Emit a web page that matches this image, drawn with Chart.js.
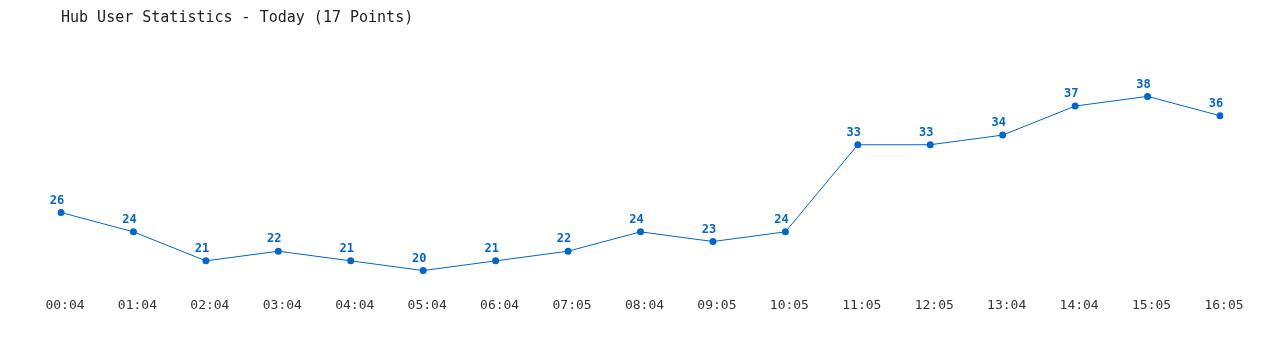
<!DOCTYPE html>
<html>
<head>
<meta charset="utf-8">
<script src="https://cdn.jsdelivr.net/npm/chart.js@4/dist/chart.umd.min.js"></script>
<style>
  html, body { margin: 0; padding: 0; background: #fff; }
</style>
</head>
<body>
<canvas id="hubChart" width="1280" height="350"></canvas>
<script>
const times = ['00:04','01:04','02:04','03:04','04:04','05:04','06:04','07:05','08:04',
               '09:05','10:05','11:05','12:05','13:04','14:04','15:05','16:05'];
const users = [26,24,21,22,21,20,21,22,24,23,24,33,33,34,37,38,36];
const chartTitle = 'Hub User Statistics - Today (17 Points)';

const lineBlue = '#0066cc';
const monoFont = '"DejaVu Sans Mono", "Liberation Mono", monospace';

// draw the value above each point
const valueLabels = {
    id: 'valueLabels',
    afterDatasetsDraw(chart){
        let ctx = chart.ctx;
        let meta = chart.getDatasetMeta(0);
        ctx.save();
        ctx.font = 'bold 12px ' + monoFont;
        ctx.fillStyle = lineBlue;
        ctx.textAlign = 'center';
        ctx.textBaseline = 'bottom';
        meta.data.forEach((pt, i) => {
            ctx.fillText(chart.data.datasets[0].data[i], pt.x - 4, pt.y - 6);
        });
        ctx.restore();
    }
};

new Chart(document.getElementById('hubChart'), {
    type: 'line',
    data: {
        labels: times,
        datasets: [{
            label: 'Users',
            data: users,
            borderColor: lineBlue,
            backgroundColor: lineBlue,
            borderWidth: 1,
            tension: 0,
            pointRadius: 3.5,
            pointHoverRadius: 3.5,
            pointBackgroundColor: lineBlue,
            pointBorderWidth: 0
        }]
    },
    options: {
        responsive: false,
        animation: false,
        devicePixelRatio: 1,
        layout: { padding: { left: 61, right: 60, top: 0, bottom: 36.5 } },
        plugins: {
            legend: { display: false },
            tooltip: { enabled: false },
            title: {
                display: true,
                text: chartTitle,
                align: 'start',
                color: '#222',
                font: { family: monoFont, size: 15, weight: 'normal' },
                padding: { top: 9, bottom: 21 }
            }
        },
        scales: {
            x: {
                offset: false,
                grid: { display: false },
                border: { display: false },
                ticks: {
                    color: '#333',
                    padding: 0,
                    labelOffset: 4,
                    maxRotation: 0,
                    autoSkip: false,
                    font: { family: monoFont, size: 13 }
                }
            },
            y: {
                display: false,
                min: 18,
                max: 43
            }
        }
    },
    plugins: [valueLabels]
});
</script>
</body>
</html>
